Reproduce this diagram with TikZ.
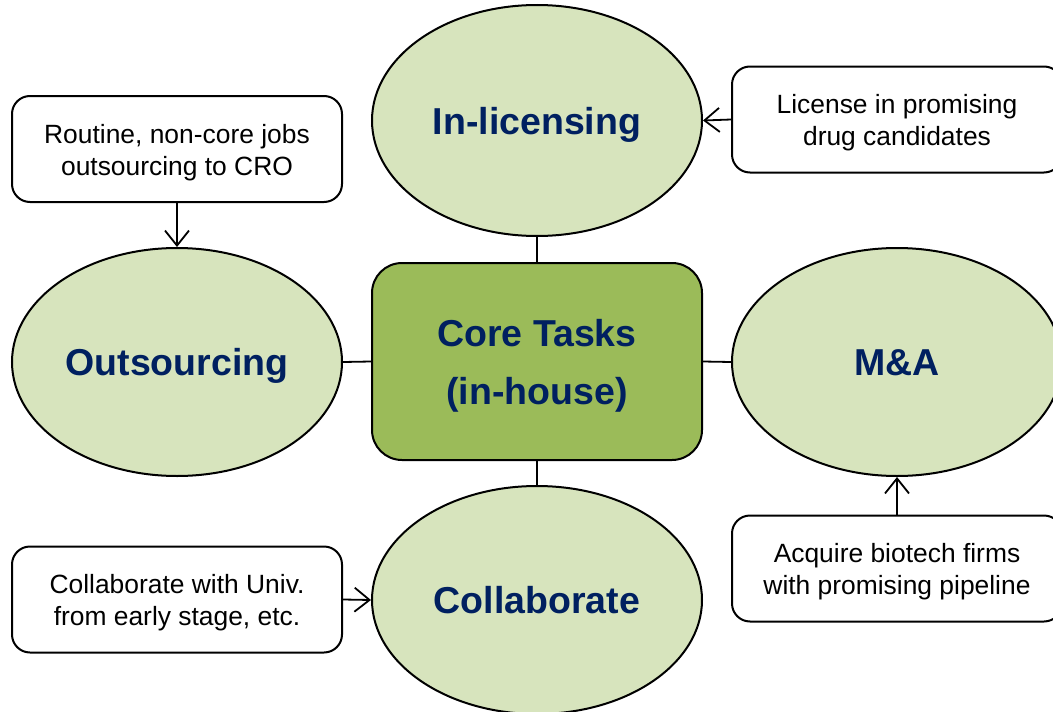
\documentclass[tikz,border=0pt]{standalone}
\usepackage{fontspec}
\setmainfont{Liberation Sans}
\usetikzlibrary{shapes.geometric,arrows.meta}
\definecolor{navy}{HTML}{002060}
\definecolor{lightgreen}{HTML}{D7E4BD}
\definecolor{midgreen}{HTML}{9BBB59}
\newcommand\notestrut{\rule{0pt}{25.5pt}}
\newcommand\corestrut{\rule{0pt}{36.5pt}}
\tikzset{
  oval/.style={ellipse, draw=black, line width=2pt, fill=lightgreen,
    minimum width=330pt, minimum height=228pt, inner sep=0pt,
    text height=27pt, text depth=0pt,
    text=navy, font=\fontsize{37.5}{44}\selectfont\bfseries},
  corebox/.style={rectangle, rounded corners=30pt, draw=black, line width=2pt,
    fill=midgreen, minimum width=330pt, minimum height=197pt, inner sep=0pt,
    text=navy, align=center, font=\fontsize{37.5}{58}\selectfont\bfseries},
  notebox/.style={rectangle, rounded corners=18pt, draw=black, line width=2pt,
    fill=white, minimum width=330pt, minimum height=106pt, inner sep=0pt,
    align=center, font=\fontsize{26.4}{32}\selectfont},
  link/.style={draw=black, line width=1.8pt},
  arr/.style={draw=black, line width=1.8pt, -{Straight Barb[length=15pt,width=24pt]}}
}
\begin{document}
\begin{tikzpicture}[x=1pt,y=-1pt]
\useasboundingbox (0,0) rectangle (1053,712);
% central box
\node[corebox] (core) at (537,361.5) {\corestrut Core Tasks\\(in-house)};
% ellipses
\node[oval, minimum height=231pt] (inl) at (537,120.5) {In-licensing};
\node[oval] (out) at (177,362) {Outsourcing};
\node[oval] (ma) at (897,362) {M\&A};
\node[oval] (col) at (537,600) {Collaborate};
% note boxes
\node[notebox] (tl) at (177,149) {\notestrut Routine, non-core jobs\\outsourcing to CRO};
\node[notebox] (tr) at (897,119.5) {\notestrut License in promising\\drug candidates};
\node[notebox] (br) at (897,568.5) {\notestrut Acquire biotech firms\\with promising pipeline};
\node[notebox] (bl) at (177,599.5) {\notestrut Collaborate with Univ.\\from early stage, etc.};
% links
\draw[link] (core) -- (inl);
\draw[link] (core) -- (col);
\draw[link] (core.west) -- (out.east);
\draw[link] (core.east) -- (ma.west);
% arrows
\draw[arr] (tl.south) -- (out.north);
\draw[arr] (tr.west) -- (inl.east);
\draw[arr] (br.north) -- (ma.south);
\draw[arr] (bl.east) -- (col.west);
\end{tikzpicture}
\end{document}
